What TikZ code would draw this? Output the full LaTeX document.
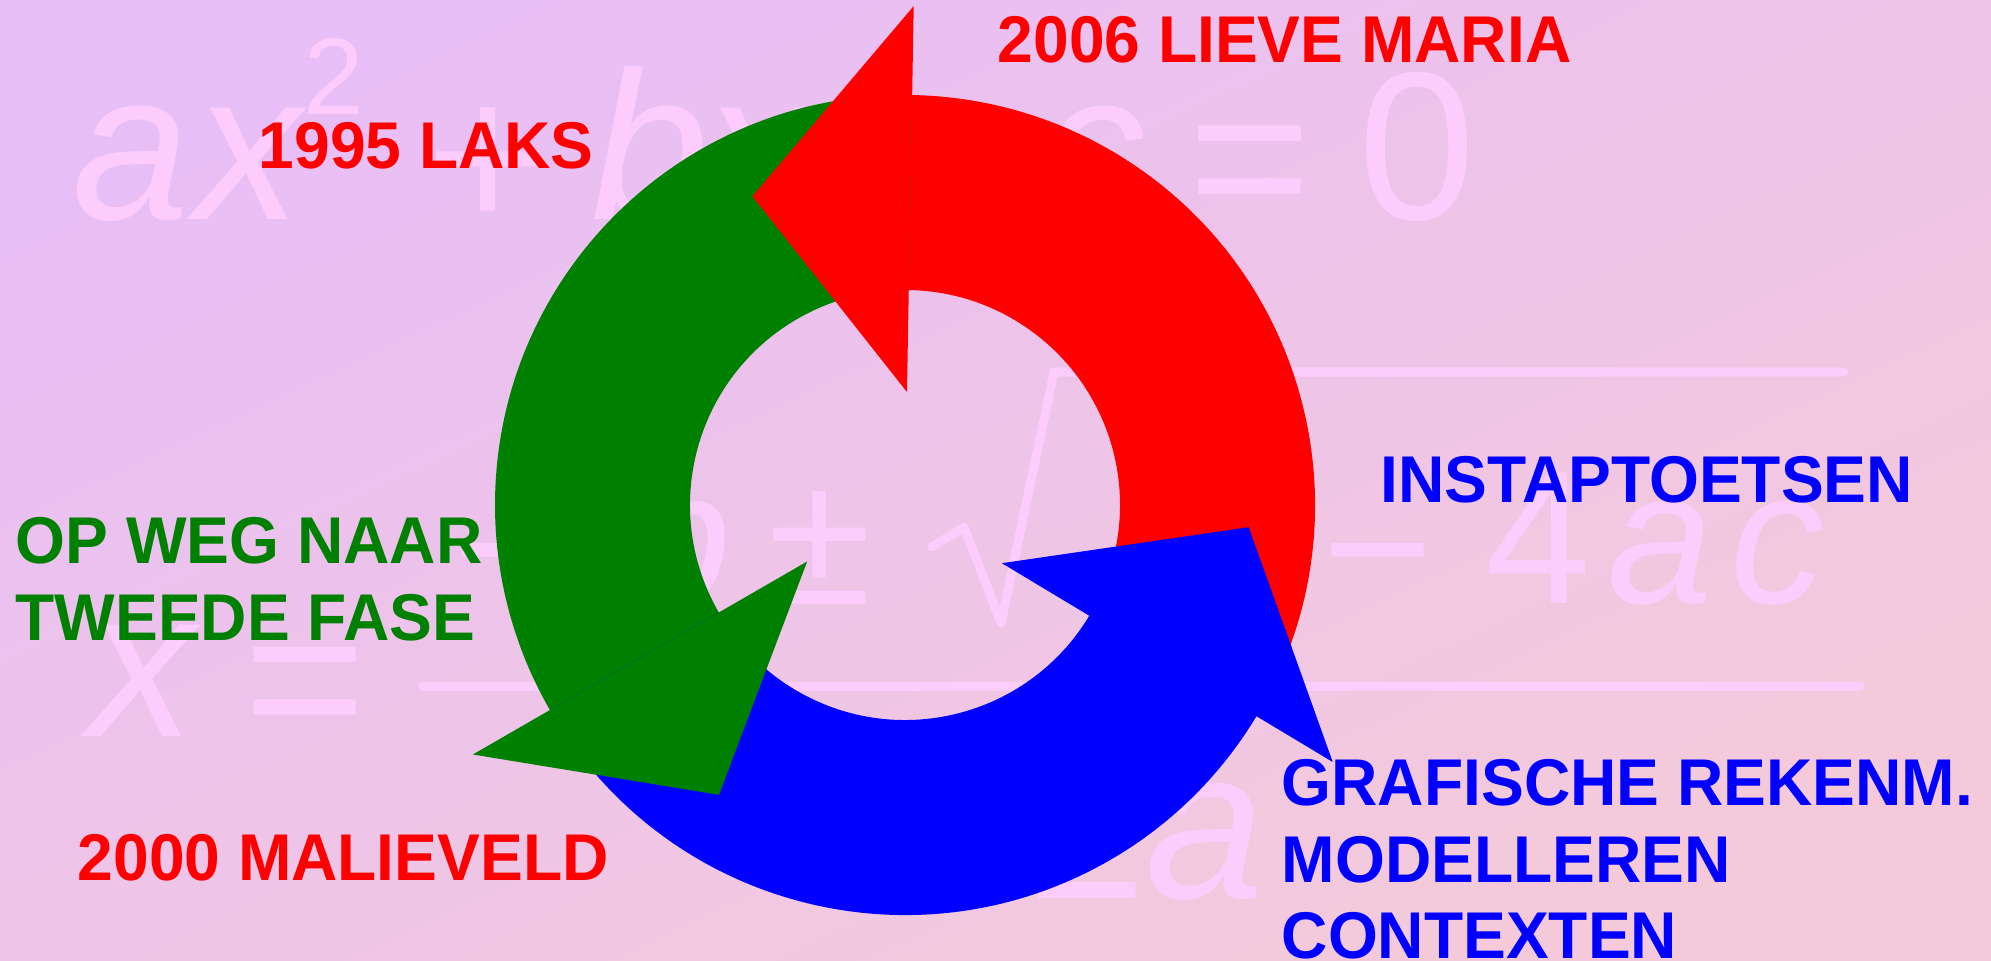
\documentclass[tikz,border=0pt]{standalone}
\usepackage{fontspec}
\setmainfont{Liberation Sans}
\newfontfamily\phasefont{Liberation Sans}[FakeStretch=0.97]
\usetikzlibrary{calc}

\definecolor{bgtl}{RGB}{232,190,246}
\definecolor{bgbr}{RGB}{244,202,218}
\definecolor{eqpink}{RGB}{252,204,252}
\definecolor{pgreen}{RGB}{0,128,0}

\begin{document}
\begin{tikzpicture}[x=0.01cm, y=0.01cm,
  eqglyph/.style={text=eqpink, inner sep=0pt, anchor=base},
  eqline/.style={eqpink, line width=0.09cm, line cap=round, line join=round},
  phase/.style={font={\phasefont\bfseries\fontsize{18.8}{22}\selectfont}, inner sep=0pt, anchor=base west}]
  % background
  \shade[top color=bgtl, bottom color=bgbr, shading angle=25] (0,0) rectangle (1991,960);
  \useasboundingbox (0,0) rectangle (1991,960);

  % ax^2 + bx + c = 0
  \foreach \gx/\gc [count=\i] in {131/a, 248/x, 650/b, 758/x, 1093/c}
    \node[eqglyph, font={\fontsize{60}{72}\selectfont\itshape}] (quadvar\i) at (\gx,740) {\gc};
  \foreach \gx/\gc [count=\i] in {488/+, 930/+, 1250/=}
    \node[eqglyph, font={\fontsize{60}{72}\selectfont}] (quadop\i) at (\gx,730) {\gc};
  \node[eqglyph, font={\fontsize{60}{72}\selectfont}] (zero) at (1417,740) {0};
  \node[eqglyph, font={\fontsize{31}{36}\selectfont}] (square) at (334,845) {2};

  % x = (-b +- sqrt(b^2 - 4ac)) / 2a
  \node[eqglyph, font={\fontsize{60}{72}\selectfont\itshape}] (xvar) at (142,224) {x};
  \node[eqglyph, font={\fontsize{60}{72}\selectfont}] (eqsign) at (305,210) {=};
  \draw[eqline] (423,274) -- (1860,274);
  \foreach \gx/\gc [count=\i] in {678/b, 1165/b, 1660/a, 1778/c}
    \node[eqglyph, font={\fontsize{54}{64}\selectfont\itshape}] (numvar\i) at (\gx,357) {\gc};
  \foreach \gx/\gc [count=\i] in {508/−, 1378/−}
    \node[eqglyph, font={\fontsize{54}{64}\selectfont}] (numop\i) at (\gx,347) {\gc};
  \node[eqglyph, font={\fontsize{54}{64}\selectfont}] (plusminus) at (820,356) {±};
  \node[eqglyph, font={\fontsize{54}{64}\selectfont}] (four) at (1538,357) {4};
  \node[eqglyph, font={\fontsize{28}{34}\selectfont}] (bsquare) at (1240,442) {2};
  \draw[eqline] (932,413) -- (964,433) -- (1001,337) -- (1054,588) -- (1844,588);
  \node[eqglyph, font={\fontsize{61}{72}\selectfont}] (two) at (1087,62) {2};
  \node[eqglyph, font={\fontsize{61}{72}\selectfont\itshape}] (avar) at (1205,62) {a};

  % cycle arrows: shafts first, heads on top
  \coordinate (hub) at (905,455);
  \fill[red] ($(hub)+(-31:410)$) arc[start angle=-31, end angle=90, radius=410]
    -- ($(hub)+(90:215)$) arc[start angle=90, end angle=-31, radius=215] -- cycle;
  \fill[pgreen] ($(hub)+(89:410)$) arc[start angle=89, end angle=211, radius=410]
    -- ($(hub)+(211:215)$) arc[start angle=211, end angle=89, radius=215] -- cycle;
  \fill[blue] ($(hub)+(210:410)$) arc[start angle=210, end angle=330, radius=410]
    -- ($(hub)+(330:215)$) arc[start angle=330, end angle=210, radius=215] -- cycle;
  \fill[red] ($(hub)+(89:113)$) -- ($(hub)+(89:499)$) -- ($(hub)+(89:306)+(179:158)$) -- cycle;
  \fill[pgreen] ($(hub)+(210:113)$) -- ($(hub)+(210:499)$) -- ($(hub)+(210:306)+(300:158)$) -- cycle;
  \fill[blue] ($(hub)+(329:113)$) -- ($(hub)+(329:499)$) -- ($(hub)+(329:306)+(59:158)$) -- cycle;

  % labels
  \node[phase, text=red] (lieve) at (997,897) {2006 LIEVE MARIA};
  \node[phase, text=red] (laks) at (258,791) {1995 LAKS};
  \node[phase, text=blue] (instap) at (1380,458) {INSTAPTOETSEN};
  \node[phase, text=pgreen] (opweg) at (15,397) {OP WEG NAAR};
  \node[phase, text=pgreen] (fase) at (15,320) {TWEEDE FASE};
  \node[phase, text=red] (malie) at (77,80) {2000 MALIEVELD};
  \node[phase, text=blue] (grafisch) at (1281,155) {GRAFISCHE REKENM.};
  \node[phase, text=blue] (model) at (1281,78) {MODELLEREN};
  \node[phase, text=blue] (context) at (1281,2) {CONTEXTEN};
\end{tikzpicture}
\end{document}
